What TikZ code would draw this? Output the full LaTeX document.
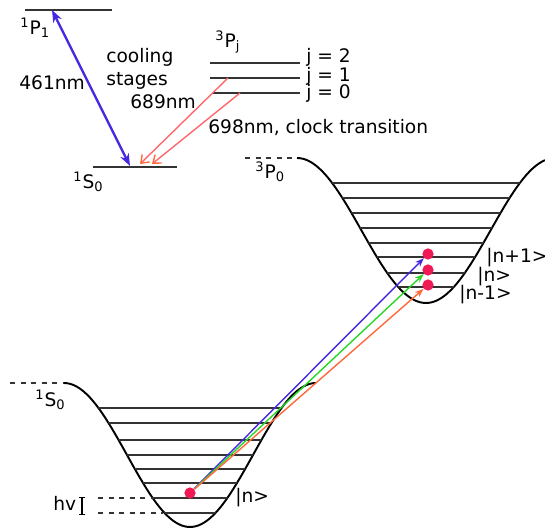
\documentclass[tikz,border=0pt]{standalone}
\usepackage{fontspec}
\setmainfont{DejaVu Sans}
\usetikzlibrary{arrows.meta, positioning, calc}

\definecolor{laserblue}{RGB}{70,40,225}
\definecolor{lasergreen}{RGB}{40,215,40}
\definecolor{laserorange}{RGB}{255,105,60}
\definecolor{laserpink}{RGB}{255,105,110}
\definecolor{atomred}{RGB}{240,25,85}

\tikzset{
  lbl/.style={font=\fontsize{10.6}{13}\selectfont, inner sep=0pt, anchor=west},
  lvl/.style={line width=0.85pt, black!80},
  well/.style={line width=1.1pt},
  atom/.style={circle, fill=atomred, inner sep=0pt, minimum size=6.4pt},
  cool/.style={laserpink, line width=0.8pt, -{Straight Barb[color=laserorange, length=4pt, width=6pt]}},
}

\begin{document}
\begin{tikzpicture}[x=0.02cm, y=-0.02cm]
    \useasboundingbox (0,0) rectangle (545,530);

    % level scheme
    \draw[lvl] (25,10) -- (112,10);
    \draw[lvl] (93,167) -- (177,167);
    \draw[lvl] (210,63) -- (300,63);
    \draw[lvl] (210,78) -- (300,78);
    \draw[lvl] (213,93) -- (300,93);

    \coordinate (p1) at (52,10);
    \coordinate (s0a) at (130,166);
    \coordinate (s0b) at (140,164);
    \coordinate (s0c) at (152,164);
    \coordinate (pj1) at (228,78);
    \coordinate (pj0) at (240,93);

    \draw[laserblue, line width=1.3pt, {Stealth[length=7pt]}-{Stealth[length=7pt]}] (p1) -- (s0a);
    \draw[cool] (pj1) -- (s0b);
    \draw[cool] (pj0) -- (s0c);

    \node[lbl] (P1) at (20,28) {\textsuperscript{1}P\textsubscript{1}};
    \node[lbl] (S0) at (73,182) {\textsuperscript{1}S\textsubscript{0}};
    \node[lbl] (PJ) at (215,42) {\textsuperscript{3}P\textsubscript{j}};
    \node[lbl] (l461) at (19,83) {461nm};
    \node[lbl, align=left] (cool) at (106,69) {cooling\\stages};
    \node[lbl] (l689) at (130,102) {689nm};
    \node[lbl] (l698) at (208,128) {698nm, clock transition};
    \node[lbl] (j2) at (306,57) {j = 2};
    \node[lbl] (j1) at (306,76) {j = 1};
    \node[lbl] (j0) at (306,93) {j = 0};

    % upper well 3P0
    \draw[lvl, dashed] (245,158) -- (297,158);
    \draw[well] plot[domain=297:545, samples=80] (\x, {158+72.5*(1+cos(1.3953*(\x-426)))});
    \begin{scope}
        \clip plot[domain=297:555, samples=80] (\x, {158+72.5*(1+cos(1.3953*(\x-426)))}) -- cycle;
        \foreach \y in {183,198,213,228,243,257,273,287}
            \draw[lvl] (290,\y) -- (560,\y);
    \end{scope}
    \node[lbl] (P0) at (255,172) {\textsuperscript{3}P\textsubscript{0}};

    % lower well 1S0
    \draw[lvl, dashed] (10,383) -- (64,383);
    \draw[well] plot[domain=64:316, samples=80] (\x, {383+72*(1+cos(1.4286*(\x-190)))});
    \begin{scope}
        \clip plot[domain=64:316, samples=80] (\x, {383+72*(1+cos(1.4286*(\x-190)))}) -- cycle;
        \foreach \y in {408,423,440,455,469,483,498,513}
            \draw[lvl] (60,\y) -- (320,\y);
    \end{scope}
    \draw[lvl, dashed] (98,498) -- (153,498);
    \draw[lvl, dashed] (98,513) -- (163,513);
    \node[lbl] (S0low) at (35,400) {\textsuperscript{1}S\textsubscript{0}};

    % atoms and sideband transitions
    \node[atom] (g) at (190,493) {};
    \node[atom] (up) at (428,254) {};
    \node[atom] (car) at (428,270) {};
    \node[atom] (down) at (428,285) {};

    \draw[laserblue, line width=0.8pt, -{Stealth[length=5pt]}] (g) -- (up);
    \draw[lasergreen, line width=0.8pt, -{Stealth[length=5pt]}] (g) -- (car);
    \draw[laserorange, line width=0.8pt, -{Stealth[length=5pt]}] (g) -- (down);

    \node[lbl] (nup) at (486,258) {|n+1>};
    \node[lbl] (nn) at (477,277) {|n>};
    \node[lbl] (ndown) at (459,295) {|n-1>};
    \node[lbl] (nlow) at (235,498) {|n>};

    \node[lbl] (hv) at (53,503) {hv};
    \coordinate (hvtop) at (82,497);
    \coordinate (hvbot) at (82,515);
    \draw[line width=0.8pt, {Bar[width=3pt]}-{Bar[width=3pt]}] (hvtop) -- (hvbot);
\end{tikzpicture}
\end{document}
